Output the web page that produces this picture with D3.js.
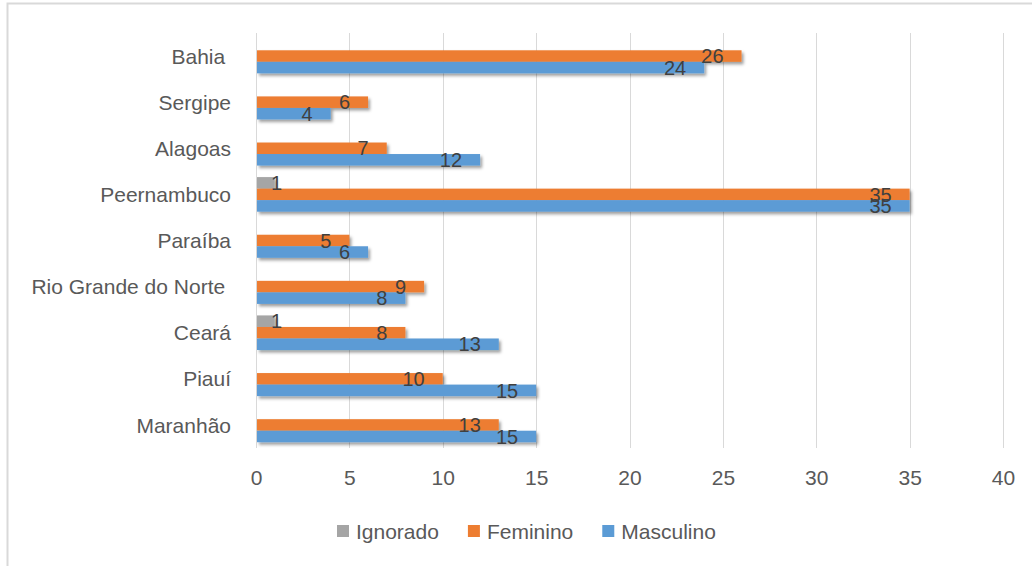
<!DOCTYPE html>
<html>
<head>
<meta charset="utf-8">
<script src="https://cdn.jsdelivr.net/npm/d3@7"></script>
<style>
  html, body { margin: 0; padding: 0; background: #fff; }
  svg { display: block; font-family: "Liberation Sans", Arial, sans-serif; }
  .cat { white-space: pre; }
</style>
</head>
<body>
<svg id="chart" width="1032" height="566"></svg>
<script>
// States (top to bottom) and case counts per sex
const categories = ["Bahia ", "Sergipe", "Alagoas", "Peernambuco", "Paraíba",
                    "Rio Grande do Norte ", "Ceará", "Piauí", "Maranhão"];
const seriesNames = ["Ignorado", "Feminino", "Masculino"];
const ignorado  = [0, 0, 0, 1, 0, 0, 1, 0, 0];
const feminino  = [26, 6, 7, 35, 5, 9, 8, 10, 13];
const masculino = [24, 4, 12, 35, 6, 8, 13, 15, 15];
const xTicks = [0, 5, 10, 15, 20, 25, 30, 35, 40];

const colors = { Ignorado: "#a5a5a5", Feminino: "#ed7d31", Masculino: "#5b9bd5" };
const valuesBySeries = { Ignorado: ignorado, Feminino: feminino, Masculino: masculino };

const svg = d3.select("#chart");

// drop shadow used on the bars
const defs = svg.append("defs");
const f = defs.append("filter").attr("id", "shadow")
  .attr("x", "-5%").attr("y", "-50%").attr("width", "115%").attr("height", "220%");
f.append("feDropShadow").attr("dx", 2).attr("dy", 2.5).attr("stdDeviation", 1.4)
  .attr("flood-color", "#000").attr("flood-opacity", 0.38);

// outer chart frame
svg.append("rect").attr("x", 7.5).attr("y", 3.5).attr("width", 1060).attr("height", 600)
  .attr("fill", "#fff").attr("stroke", "#d9d9d9").attr("stroke-width", 2);

const plot = { left: 256, right: 1003, top: 33, bottom: 448 };

const x = d3.scaleLinear().domain([0, 40]).range([plot.left, plot.right]);
const y0 = d3.scaleBand().domain(categories).range([plot.top, plot.bottom])
  .paddingInner(0.25).paddingOuter(0.125);
const y1 = d3.scaleBand().domain(seriesNames).range([0, y0.bandwidth()]);

// vertical gridlines
svg.append("g").selectAll("line").data(xTicks).join("line")
  .attr("x1", d => Math.round(x(d)) + 0.5).attr("x2", d => Math.round(x(d)) + 0.5)
  .attr("y1", plot.top).attr("y2", plot.bottom)
  .attr("stroke", "#d9d9d9").attr("stroke-width", 1);

// value axis labels
const xAxis = d3.axisBottom(x).tickValues(xTicks).tickSize(0).tickPadding(0);
const gx = svg.append("g").attr("transform", `translate(0,${plot.bottom + 22})`).call(xAxis);
gx.select(".domain").remove();
gx.selectAll("text").attr("fill", "#595959").attr("font-size", 21)
  .attr("font-family", "Liberation Sans, Arial, sans-serif");

// category labels
const yAxis = d3.axisLeft(y0).tickSize(0).tickPadding(25);
const gy = svg.append("g").attr("transform", `translate(${plot.left},0)`).call(yAxis);
gy.select(".domain").remove();
gy.selectAll("text").attr("class", "cat").attr("fill", "#595959").attr("font-size", 21)
  .attr("font-family", "Liberation Sans, Arial, sans-serif")
  .attr("dy", "0.36em");

// bars
const rows = [];
categories.forEach((c, i) => {
  seriesNames.forEach(s => rows.push({ cat: c, series: s, value: valuesBySeries[s][i] }));
});
const shown = rows.filter(d => d.value > 0);

svg.append("g").attr("filter", "url(#shadow)").selectAll("rect").data(shown).join("rect")
  .attr("x", x(0) + 1)
  .attr("y", d => y0(d.cat) + y1(d.series))
  .attr("width", d => x(d.value) - x(0) - 1)
  .attr("height", y1.bandwidth())
  .attr("fill", d => colors[d.series]);

// value labels near the bar ends
svg.append("g").selectAll("text").data(shown).join("text")
  .attr("x", d => Math.max(x(d.value) - 18, x(0) + 26))
  .attr("y", d => y0(d.cat) + y1(d.series) + y1.bandwidth() / 2)
  .attr("dy", "0.36em")
  .attr("text-anchor", "end")
  .attr("font-size", 20)
  .attr("fill", "#404040")
  .text(d => d.value);

// legend
const legend = svg.append("g").attr("transform", "translate(337,531)");
let lx = 0;
seriesNames.forEach(s => {
  const g = legend.append("g").attr("transform", `translate(${lx},0)`);
  g.append("rect").attr("x", 0).attr("y", -6).attr("width", 12).attr("height", 12)
    .attr("fill", colors[s]);
  const t = g.append("text").attr("x", 19).attr("dy", "0.36em")
    .attr("font-size", 21).attr("fill", "#595959").text(s);
  lx += 19 + t.node().getComputedTextLength() + 29;
});
</script>
</body>
</html>
